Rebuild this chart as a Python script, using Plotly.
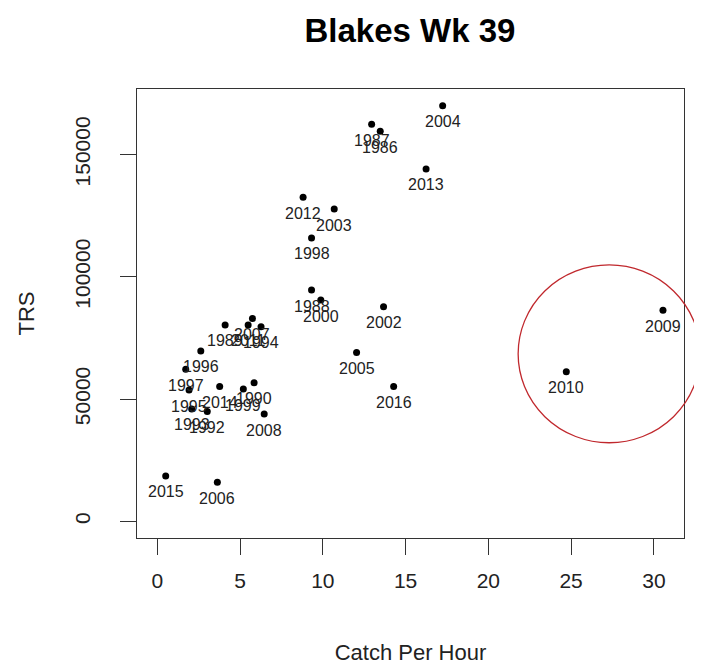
import plotly.graph_objects as go

# Data
years = ["2004", "1987", "1986", "2013", "2012", "2003", "1998",
         "1988", "2000", "2002", "2005", "2016",
         "2009", "2010", "2015", "2006",
         "2007", "2011", "1989", "1994", "1996", "1997", "1995",
         "2014", "1990", "1999", "1993", "1992", "2008"]
catch_per_hour = [17.24, 12.95, 13.47, 16.24, 8.81, 10.69, 9.32,
                  9.32, 9.88, 13.67, 12.04, 14.28,
                  30.55, 24.71, 0.51, 3.63,
                  5.75, 5.49, 4.10, 6.27, 2.63, 1.72, 1.92,
                  3.77, 5.85, 5.20, 2.08, 3.02, 6.46]
trs = [170000, 162400, 159500, 144100, 132500, 127700, 115900,
       94600, 90500, 87800, 69100, 55100,
       86300, 61200, 18600, 16000,
       83000, 80300, 80300, 79600, 69700, 62200, 53700,
       55100, 56700, 54100, 46000, 44900, 43900]

x_ticks = [0, 5, 10, 15, 20, 25, 30]
y_ticks = [0, 50000, 100000, 150000]
y_tick_labels = ["0", "50000", "100000", "150000"]

# Highlight circle (data units)
circle_cx, circle_cy = 27.3, 68500
circle_rx, circle_ry = 5.5, 36350

x_range = [-1.224, 31.82]
y_range = [-6800, 176800]

fig = go.Figure()
fig.add_trace(go.Scatter(
    x=catch_per_hour, y=trs, mode="markers",
    marker=dict(color="black", size=7),
    hoverinfo="text", text=years, showlegend=False,
))

for xv, yv, lab in zip(catch_per_hour, trs, years):
    fig.add_annotation(x=xv, y=yv, text=lab, showarrow=False,
                       yshift=-16, xanchor="center", yanchor="middle",
                       font=dict(family="Liberation Sans, Arial", size=16, color="#222"))

def to_px(v, rng):
    return (v - rng[0]) / (rng[1] - rng[0])

fig.add_shape(type="circle", xref="paper", yref="paper",
              x0=to_px(circle_cx - circle_rx, x_range), x1=to_px(circle_cx + circle_rx, x_range),
              y0=to_px(circle_cy - circle_ry, y_range), y1=to_px(circle_cy + circle_ry, y_range),
              line=dict(color="#C0282D", width=1.3))

axis_font = dict(family="Liberation Sans, Arial", size=21, color="#222")
fig.update_layout(
    width=702, height=670,
    margin=dict(l=129, r=26, t=81, b=140),
    paper_bgcolor="white", plot_bgcolor="white",
    title=dict(text="<b>Blakes Wk 39</b>", x=0.5726, xanchor="center", y=0.967, yanchor="middle",
               font=dict(family="Liberation Sans, Arial", size=33, color="black")),
    xaxis=dict(range=x_range, tickvals=x_ticks, ticks="outside", ticklen=16, tickwidth=1,
               tickcolor="#333", showline=True, linecolor="#333", linewidth=1, mirror=True,
               showgrid=False, zeroline=False, tickfont=axis_font, ticklabelstandoff=8,
               title=dict(text="Catch Per Hour", font=dict(family="Liberation Sans, Arial", size=22, color="#222"),
                          standoff=53)),
    yaxis=dict(range=y_range, tickvals=y_ticks, ticktext=y_tick_labels, ticks="outside", ticklen=16,
               tickwidth=1, tickcolor="#333", showline=True, linecolor="#333", linewidth=1, mirror=True,
               showgrid=False, zeroline=False, tickfont=axis_font, tickangle=-90, ticklabelstandoff=22,
               title=dict(text="TRS", font=dict(family="Liberation Sans, Arial", size=22, color="#222"),
                          standoff=29)),
)

fig.write_html("out.html")
